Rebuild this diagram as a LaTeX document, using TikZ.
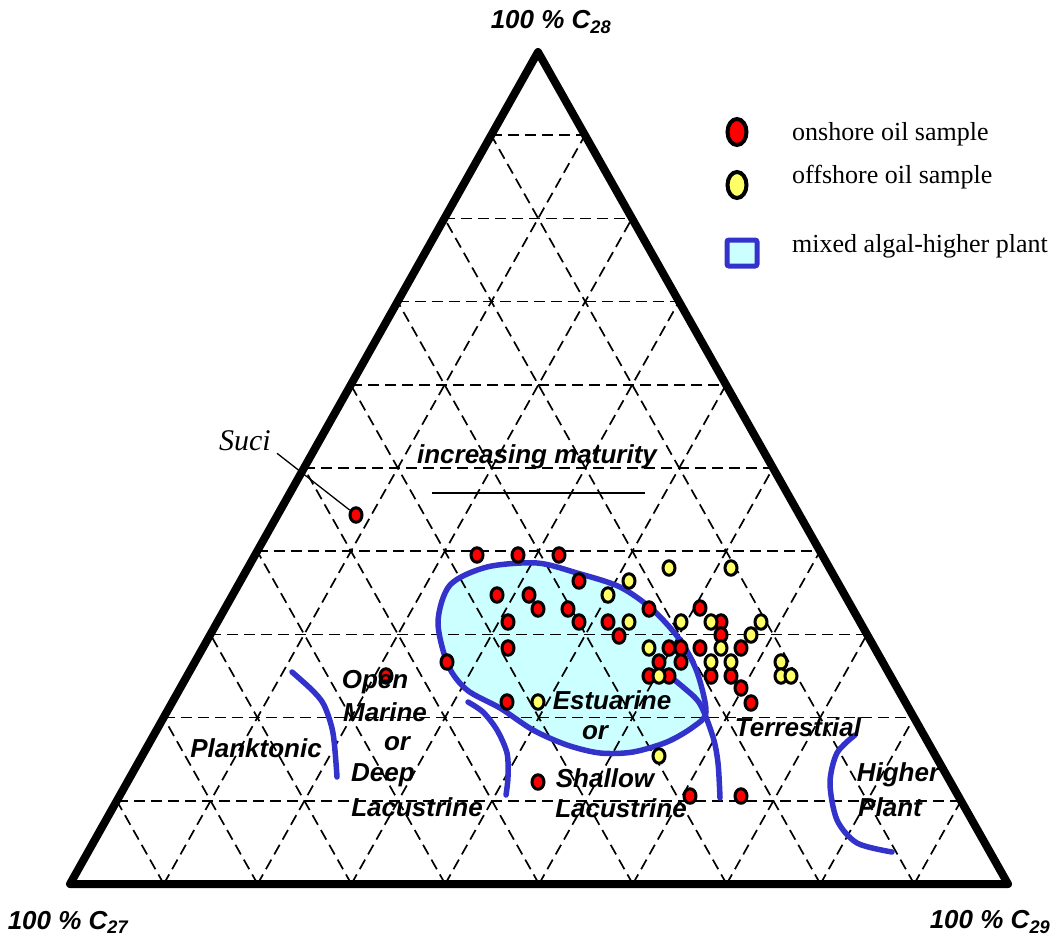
\documentclass[tikz,border=0pt]{standalone}
\usepackage{fontspec}
\setmainfont{Liberation Serif}
\setsansfont{Liberation Sans}
\usepackage{tikz}
\usetikzlibrary{calc}
\usetikzlibrary{shapes.geometric}

\definecolor{onred}{RGB}{255,0,0}
\definecolor{offyellow}{RGB}{255,255,102}
\definecolor{mixblue}{RGB}{51,51,204}
\definecolor{mixcyan}{RGB}{204,255,255}

\begin{document}
\begin{tikzpicture}[x=1pt,y=-1pt,
    frame/.style={black, line width=8pt, line join=round},
    gridline/.style={black, line width=1.7pt, dash pattern=on 11pt off 6pt},
    boundary/.style={mixblue, line width=5.5pt, line cap=round},
    onshore/.style={ellipse, draw=black, fill=onred, line width=3pt, minimum width=12pt, minimum height=14.5pt, inner sep=0pt},
    offshore/.style={onshore, fill=offyellow},
    bigdot/.style={line width=4pt, minimum width=19pt, minimum height=26pt},
    zone/.style={font=\sffamily\bfseries\itshape\fontsize{26}{30}\selectfont, inner sep=0pt},
    keytext/.style={font=\fontsize{26}{30}\selectfont, anchor=base west, inner sep=0pt}]
     \useasboundingbox (0,0) rectangle (1059,939);
     \coordinate (A) at (538,52);
     \coordinate (L) at (70,884);
     \coordinate (R) at (1008,884);
     % mixed algal-higher plant area
     \fill[mixcyan] plot[smooth cycle] coordinates {(438,622) (450,585) (487,567) (537,563) (577,573) (620,587) (653,610) (680,640) (697,672) (706,712) (693,727) (667,742) (633,752) (600,753) (567,745) (533,730) (500,708) (467,690) (448,665)};
     % ternary grid, 10 % steps
     \foreach \k [evaluate=\k as \j using 10-\k] in {1,...,9} {
       \draw[gridline] ($(A)!\k/10!(L)$) -- ($(A)!\k/10!(R)$);
       \draw[gridline] ($(L)!\k/10!(R)$) -- ($(A)!\k/10!(R)$);
       \draw[gridline] ($(L)!\k/10!(R)$) -- ($(A)!\j/10!(L)$);
     }
     \draw[boundary] plot[smooth cycle] coordinates {(438,622) (450,585) (487,567) (537,563) (577,573) (620,587) (653,610) (680,640) (697,672) (706,712) (693,727) (667,742) (633,752) (600,753) (567,745) (533,730) (500,708) (467,690) (448,665)};
     % facies boundaries
     \draw[boundary] plot[smooth] coordinates {(292,672) (312,690) (324,705) (333,733) (337,777)};
     \draw[boundary] plot[smooth] coordinates {(468,702) (483,712) (497,730) (507,753) (508,777) (506,795)};
     \draw[boundary] plot[smooth] coordinates {(658,667) (683,687) (700,704) (713,737) (718,763) (720,798)};
     \draw[boundary] plot[smooth] coordinates {(855,735) (837,753) (830,783) (837,820) (857,843) (892,852)};
     % maturity trend
     \coordinate (matleft) at (432,493);
     \coordinate (matright) at (645,493);
     \draw[black, line width=1.3pt] (matleft) -- (matright);
     % samples
     \foreach \px/\py [count=\i] in {477/555, 518/555, 559/555, 579/581, 497/595, 529/595, 538/609, 568/609, 508/622, 579/622, 608/622, 619/636, 508/648, 447/662, 649/609, 700/608, 721/622, 721/635, 669/648, 681/648, 700/648, 741/648, 659/662, 681/662, 649/676, 669/676, 711/676, 731/676, 741/688, 751/703, 507/702, 386/676, 538/782, 690/796, 741/796}
       \node[onshore] (on\i) at (\px,\py) {};
     \foreach \px/\py [count=\i] in {608/595, 629/581, 669/568, 731/568, 629/622, 681/622, 711/622, 761/622, 751/635, 649/648, 721/648, 711/662, 731/662, 781/662, 659/676, 781/676, 791/676, 538/702, 659/756}
       \node[offshore] (off\i) at (\px,\py) {};
     \node[onshore] (sucidot) at (356,515) {};
     \node[font=\itshape\fontsize{30}{34}\selectfont, inner sep=2pt] (suci) at (245,441) {Suci};
     \draw[black, line width=1.3pt] ([xshift=4pt]suci.south east) -- (sucidot);
     % labels
     \node[zone] (maturity) at (537,457) {increasing maturity};
     \node[zone] (plank) at (256,748) {Planktonic};
     \node[zone] (open1) at (375,682) {Open};
     \node[zone] (open2) at (385,712) {Marine};
     \node[zone] (open3) at (397,744) {or};
     \node[zone] (open4) at (383,775) {Deep};
     \node[zone] (open5) at (417,807) {Lacustrine};
     \node[zone] (est1) at (612,700) {Estuarine};
     \node[zone] (est2) at (595,733) {or};
     \node[zone] (shal1) at (605,778) {Shallow};
     \node[zone] (shal2) at (621,808) {Lacustrine};
     \node[zone] (terr) at (798,727) {Terrestrial};
     \node[zone] (high1) at (898,775) {Higher};
     \node[zone] (high2) at (890,807) {Plant};
     \draw[frame] (A) -- (L) -- (R) -- cycle;
     \node[zone] (c28) at (551,22) {100 \% C\textsubscript{28}};
     \node[zone] (c27) at (68,922) {100 \% C\textsubscript{27}};
     \node[zone] (c29) at (990,922) {100 \% C\textsubscript{29}};
     % legend
     \node[onshore, bigdot] (keyon) at (737,132) {};
     \node[keytext] (keyontext) at (792,140) {onshore oil sample};
     \node[offshore, bigdot] (keyoff) at (737,185) {};
     \node[keytext] (keyofftext) at (792,183) {offshore oil sample};
     \node[draw=mixblue, fill=mixcyan, line width=5pt, rounded corners=2pt, minimum width=30pt, minimum height=26pt, inner sep=0pt] (keymix) at (742,253) {};
     \node[keytext] (keymixtext) at (792,252) {mixed algal-higher plant};
\end{tikzpicture}
\end{document}
